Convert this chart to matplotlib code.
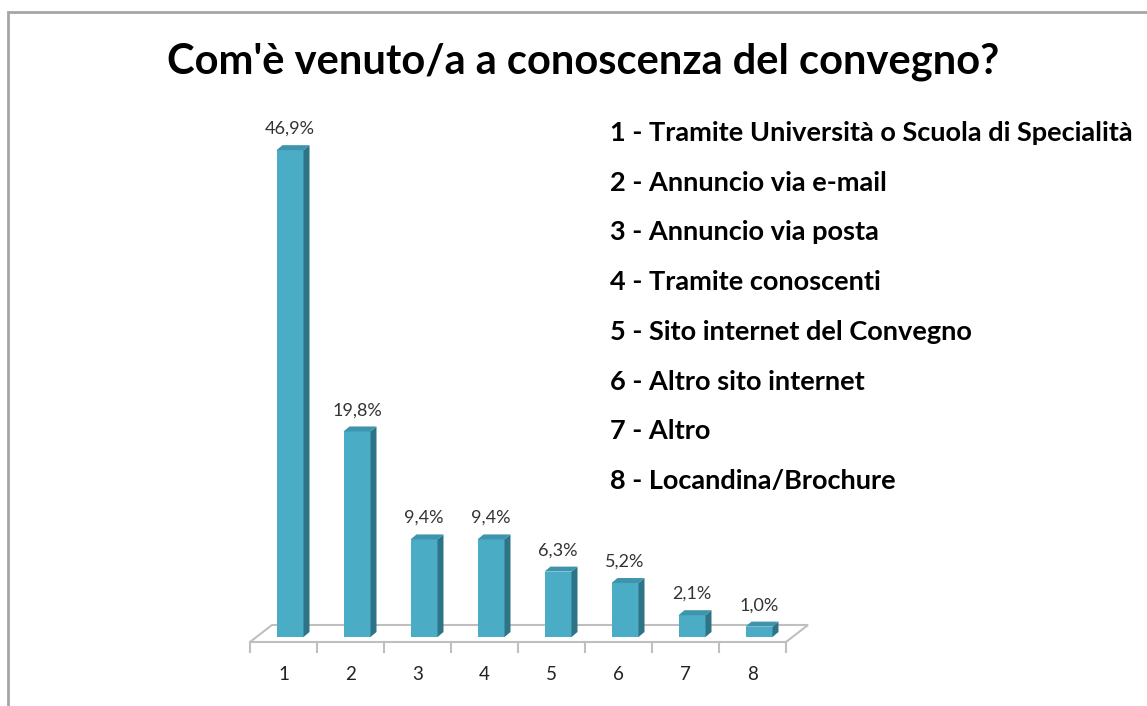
import matplotlib
matplotlib.use("Agg")
import matplotlib.pyplot as plt
from matplotlib.patches import Polygon, Rectangle
import numpy as np

plt.rcParams['font.family'] = ['Lato', 'DejaVu Sans']

title = "Com'è venuto/a a conoscenza del convegno?"
categories = ["1", "2", "3", "4", "5", "6", "7", "8"]
values = [46.9, 19.8, 9.4, 9.4, 6.3, 5.2, 2.1, 1.0]
value_labels = ["46,9%", "19,8%", "9,4%", "9,4%", "6,3%", "5,2%", "2,1%", "1,0%"]
legend_lines = [
    "1 - Tramite Università o Scuola di Specialità",
    "2 - Annuncio via e-mail",
    "3 - Annuncio via posta",
    "4 - Tramite conoscenti",
    "5 - Sito internet del Convegno",
    "6 - Altro sito internet",
    "7 - Altro",
    "8 - Locandina/Brochure",
]

W, H = 1147, 706
fig = plt.figure(figsize=(W / 100, H / 100), dpi=100)
ax = fig.add_axes([0, 0, 1, 1])

# pixel mapping: 67 px per category, 10.38 px per percent, floor front edge at y=642
px_x, px_y = 67.0, 10.38
x0_px, y0_px = 250.0, 642.0
ax.set_xlim(0.5 - x0_px / px_x, 0.5 + (W - x0_px) / px_x)
ax.set_ylim(-(H - y0_px) / px_y, y0_px / px_y)
ax.axis("off")

front = "#4BACC6"
side = "#2E7487"
top = "#3C95AD"
grid = "#BFBFBF"

n = len(categories)
xs = np.arange(1, n + 1)

# floor (perspective)
fdx, fdy = 22 / px_x, 17 / px_y
fl = [(0.5, 0), (n + 0.5, 0), (n + 0.5 + fdx, fdy), (0.5 + fdx, fdy)]
ax.add_patch(Polygon(fl, closed=True, facecolor="white", edgecolor=grid, lw=1.5, zorder=1))
for k in range(n + 1):
    ax.plot([k + 0.5, k + 0.5], [0, -10 / px_y], color=grid, lw=1.5, zorder=1)
for x, c in zip(xs, categories):
    ax.text(x, -33 / px_y, c, ha="center", va="center", fontsize=13.5, color="#222222")

# bars
bw = 27 / px_x
shift_x, base = 6.5 / px_x, 5 / px_y
ddx, ddy = 6 / px_x, 5 / px_y
bx = xs + shift_x
ax.bar(bx, values, width=bw, bottom=base, color=front, zorder=3, linewidth=0)
for x, v in zip(bx, values):
    l, r = x - bw / 2, x + bw / 2
    t = base + v
    ax.add_patch(Polygon([(r, base), (r + ddx, base + ddy), (r + ddx, t + ddy), (r, t)],
                         closed=True, facecolor=side, edgecolor="none", zorder=3))
    ax.add_patch(Polygon([(l, t), (r, t), (r + ddx, t + ddy), (l + ddx, t + ddy)],
                         closed=True, facecolor=top, edgecolor="none", zorder=3))

for x, v, s in zip(bx, values, value_labels):
    ax.annotate(s, (x, base + v + ddy), xytext=(0, 6), textcoords="offset points",
                ha="center", va="bottom", fontsize=13, color="#333333")

# title and category descriptions
fig.text(583 / W, 1 - 62 / H, title, ha="center", va="center",
         fontsize=30, fontweight="bold", color="black")
for i, line in enumerate(legend_lines):
    fig.text(610 / W, 1 - (133 + i * 49.7) / H, line, ha="left", va="center",
             fontsize=19.5, fontweight="bold", color="black")

# frame border (top and left visible)
fig.add_artist(Rectangle((8 / W, -0.05), 1.2, 1 - 12 / H + 0.05, transform=fig.transFigure,
                         fill=False, edgecolor="#A6A6A6", lw=2))

fig.savefig("out.png", dpi=100)
plt.close(fig)
